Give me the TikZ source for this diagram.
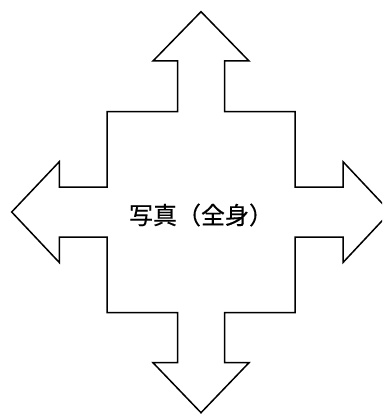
\documentclass[tikz,border=0pt]{standalone}
\usepackage{fontspec}
\newfontfamily\jpfont[FakeBold=0.4]{Noto Sans CJK JP}

\begin{document}
\begin{tikzpicture}[x=1pt,y=-1pt,line width=1.5pt,line join=miter]
  \tikzstyle{quadarrow}=[draw=black,fill=white]
  \tikzstyle{caption}=[font=\jpfont\fontsize{24}{27}\selectfont,text=black,inner sep=0pt]
\useasboundingbox (0,0) rectangle (382,414);
\clip (0,0) rectangle (382,414);
% four-way arrow, centre at (201,212)
\draw[quadarrow]
  (201,11.7) -- (249,61) -- (224.5,61) -- (224.5,111.7)
  -- (295,111.7) -- (295,187) -- (343,187) -- (343,161.7)
  -- (390.3,212) -- (343,262.5) -- (343,237) -- (295,237)
  -- (295,312.7) -- (224.5,312.7) -- (224.5,362.7) -- (249,362.7)
  -- (201,412.7) -- (153,362.7) -- (177.5,362.7) -- (177.5,312.7)
  -- (107,312.7) -- (107,237) -- (59.3,237) -- (59.3,262.5)
  -- (11.7,212) -- (59.3,161.7) -- (59.3,187) -- (107,187)
  -- (107,111.7) -- (177.5,111.7) -- (177.5,61) -- (153,61) -- cycle;
\node[caption] (photo) at (201,215) {写真（全身）};
\end{tikzpicture}
\end{document}
